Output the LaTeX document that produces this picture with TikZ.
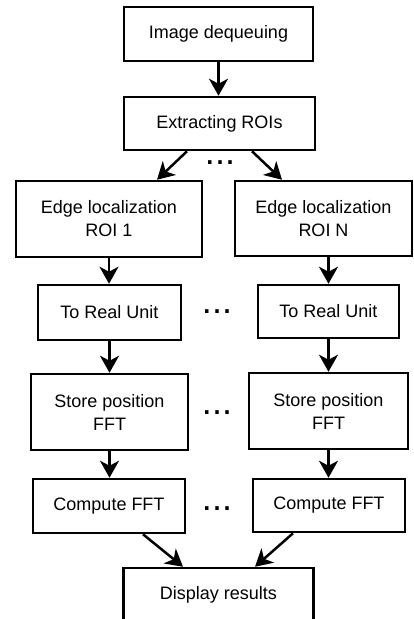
\documentclass[tikz,border=0pt]{standalone}
\usepackage{fontspec}
\setmainfont{Liberation Sans}
\usetikzlibrary{arrows.meta}
\begin{document}
\begin{tikzpicture}[x=1pt,y=-1pt,
  box/.style={draw, line width=2.5pt, align=center, inner sep=0pt,
    font=\fontsize{18}{23}\selectfont},
  arr/.style={line width=2.5pt, -{Stealth[length=17pt,width=19pt,inset=5pt]}},
  dots/.style={inner sep=0pt, font=\fontsize{36}{36}\selectfont}]
\useasboundingbox (0,0) rectangle (414,619);
\node[box, minimum width=189pt, minimum height=54pt] (b1) at (218.5,34) {Image dequeuing};
\node[box, minimum width=191pt, minimum height=53pt] (b2) at (219.5,123.5) {Extracting ROIs};
\node[box, minimum width=186pt, minimum height=76pt] (b3) at (109,219) {Edge localization\\ROI 1};
\node[box, minimum width=177pt, minimum height=75pt] (b4) at (323.5,218.5) {Edge localization\\ROI N};
\node[box, minimum width=143pt, minimum height=55pt] (b5) at (109.5,312.5) {To Real Unit};
\node[box, minimum width=141pt, minimum height=53pt] (b6) at (328.5,311.5) {To Real Unit};
\node[box, minimum width=157pt, minimum height=76pt] (b7) at (109.5,412) {Store position\\FFT};
\node[box, minimum width=159pt, minimum height=76pt] (b8) at (328.5,411) {Store position\\FFT};
\node[box, minimum width=152pt, minimum height=54pt] (b9) at (109,506) {Compute FFT};
\node[box, minimum width=152pt, minimum height=53pt] (b10) at (329,505.5) {Compute FFT};
\node[box, minimum width=190pt, minimum height=54pt] (b11) at (218.5,595) {Display results};

\node[dots] (d1) at (220,163) {...};
\node[dots] (d2) at (217,312) {...};
\node[dots] (d3) at (217,413) {...};
\node[dots] (d4) at (217,509) {...};

\draw[arr] (b1.south) -- (b1.south |- b2.north);
\draw[arr] ([xshift=-32.5pt]b2.south) -- ([xshift=48pt]b3.north);
\draw[arr] ([xshift=32.5pt]b2.south) -- ([xshift=-41.5pt]b4.north);
\draw[arr] (b3.south) -- (b3.south |- b5.north);
\draw[arr] (b6.north |- b4.south) -- (b6.north);
\draw[arr] (b5.south) -- (b5.south |- b7.north);
\draw[arr] (b6.south) -- (b6.south |- b8.north);
\draw[arr] (b7.south) -- (b7.south |- b9.north);
\draw[arr] (b8.south) -- (b8.south |- b10.north);
\draw[arr] ([xshift=34pt]b9.south) -- ([xshift=-35.5pt]b11.north);
\draw[arr] ([xshift=-36pt]b10.south) -- ([xshift=36.5pt]b11.north);
\end{tikzpicture}
\end{document}
